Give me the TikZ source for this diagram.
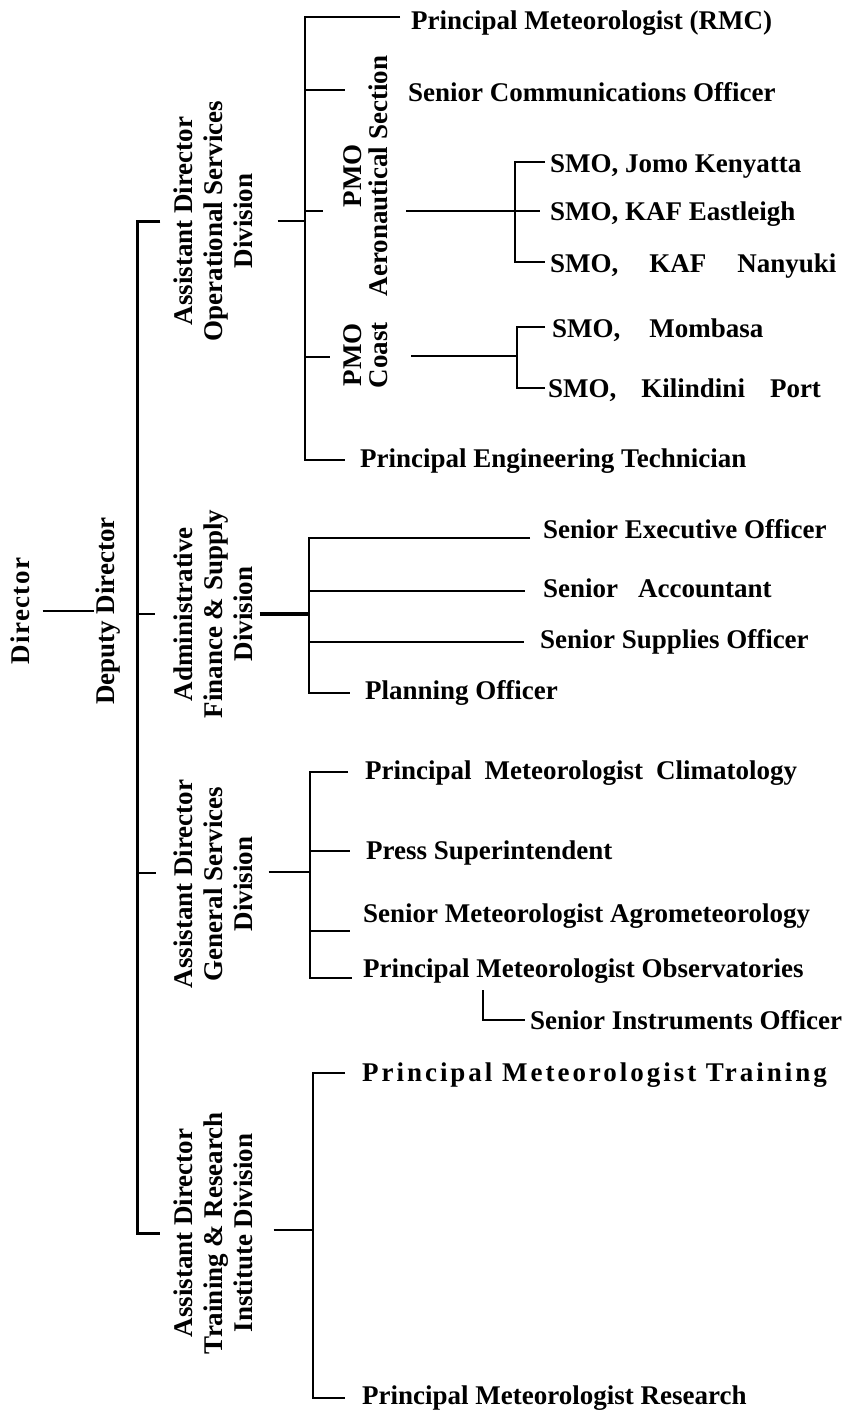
\documentclass[tikz,border=0pt]{standalone}
\usepackage{fontspec}
\setmainfont{Liberation Serif}
\begin{document}
\begin{tikzpicture}[x=1pt,y=-1pt,
  txt/.style={font=\fontsize{27}{30}\selectfont\bfseries, inner sep=0pt, anchor=base west},
  vtxt/.style={font=\fontsize{27}{30}\selectfont\bfseries, inner sep=0pt, rotate=90, align=center},
  ptxt/.style={font=\fontsize{27}{26}\selectfont\bfseries, inner sep=0pt, rotate=90, align=center},
  ln/.style={line width=2pt},
  thk/.style={line width=3pt},
  heavy/.style={line width=4pt}]
\useasboundingbox[fill=white] (0,0) rectangle (846,1414);

% ---- top levels ----
\node[vtxt] (dir) at (20,611) {\addfontfeature{LetterSpace=5}Director};
\node[vtxt] (dep) at (108,611) {Deputy Director};
\draw[ln, shorten <=13pt, shorten >=2pt] (dir.south) -- (dep.north);

% ---- division labels ----
\node[vtxt] (ops) at (213,221) {Assistant Director\\Operational Services\\Division};
\node[vtxt] (adm) at (213,614) {Administrative\\Finance \& Supply\\Division};
\node[vtxt] (gen) at (213,884) {Assistant Director\\General Services\\Division};
\node[vtxt] (trn) at (213,1233) {Assistant Director\\Training \& Research\\Institute Division};

% ---- spine ----
\coordinate (spX) at (137,0);
\draw[thk, shorten <=13pt, shorten >=13pt] (ops.north) -| (spX |- trn.north) -- (trn.north);
\draw[ln, shorten >=18pt] (spX |- adm.north) -- (adm.north);
\coordinate (gt) at (156,873);
\draw[ln] (spX |- gt) -- (gt);

% ---- operational services ----
\node[txt] (rmc) at (411,29) {Principal Meteorologist (RMC)};
\node[txt] (sco) at (408,101) {Senior Communications Officer};
\node[ptxt] (aero) at (366,176) {PMO\\Aeronautical Section};
\node[ptxt] (coast) at (366,355) {PMO\\Coast};
\node[txt] (pet) at (360,467) {Principal Engineering Technician};

\coordinate (oB) at (305,0);
\draw[ln, shorten <=25pt] (ops.south) -- (ops.south -| oB);
\coordinate (o1) at (305,17);
\coordinate (o2) at (305,90);
\coordinate (o3) at (305,211);
\coordinate (o4) at (305,357);
\coordinate (o5) at (305,460);
\draw[ln, shorten <=11pt, shorten >=15pt] (o1 -| rmc.west) -- (o1) -- (o5) -- (o5 -| pet.west);
\draw[ln, shorten >=63pt] (o2) -- (o2 -| sco.west);
\draw[ln, shorten >=21pt] (o3) -- (o3 -| aero.north);
\draw[ln, shorten >=14pt] (o4) -- (o4 -| coast.north);

% SMO aeronautical
\node[txt] (jomo) at (550,172) {SMO, Jomo Kenyatta};
\node[txt] (east) at (550,220) {SMO, KAF Eastleigh};
\node[txt] (nany) at (550,272) {SMO,\hspace{31pt}KAF\hspace{31pt}Nanyuki};
\coordinate (s1) at (515,162);
\coordinate (s3) at (515,262);
\draw[ln, shorten <=5pt, shorten >=5pt] (s1 -| jomo.west) -- (s1) -- (s3) -- (s3 -| nany.west);
\draw[ln, shorten <=18pt, shorten >=10pt] (o3 -| aero.south) -- (o3 -| east.west);

% SMO coast
\node[txt] (mom) at (552,337) {SMO,\hspace{29pt}Mombasa};
\node[txt] (kil) at (548,397) {SMO,\hspace{25pt}Kilindini\hspace{25pt}Port};
\coordinate (k1) at (517,327);
\coordinate (k2) at (517,356);
\coordinate (k3) at (517,388);
\draw[ln, shorten <=7pt, shorten >=3pt] (k1 -| mom.west) -- (k1) -- (k3) -- (k3 -| kil.west);
\draw[ln, shorten <=23pt] (k2 -| coast.south) -- (k2);

% ---- administrative ----
\node[txt] (seo) at (543,538) {Senior Executive Officer};
\node[txt] (acc) at (543,597) {Senior\hspace{20pt}Accountant};
\node[txt] (sso) at (540,648) {Senior Supplies Officer};
\node[txt] (plo) at (365,699) {Planning Officer};
\coordinate (aB) at (309,0);
\draw[heavy, shorten <=7pt] (adm.south) -- (adm.south -| aB);
\coordinate (a1) at (309,538);
\coordinate (a2) at (309,591);
\coordinate (a3) at (309,642);
\coordinate (a4) at (309,693);
\draw[ln, shorten <=13pt, shorten >=15pt] (a1 -| seo.west) -- (a1) -- (a4) -- (a4 -| plo.west);
\draw[ln, shorten >=18pt] (a2) -- (a2 -| acc.west);
\draw[ln, shorten >=16pt] (a3) -- (a3 -| sso.west);

% ---- general services ----
\node[txt] (clim) at (365,779) {Principal\hspace{13pt}Meteorologist\hspace{13pt}Climatology};
\node[txt] (press) at (366,859) {Press Superintendent};
\node[txt] (agro) at (363,922) {Senior Meteorologist Agrometeorology};
\node[txt] (obs) at (363,977) {Principal Meteorologist Observatories};
\node[txt] (ins) at (530,1029) {Senior Instruments Officer};
\coordinate (gc) at (310,872);
\draw[ln, shorten <=16pt] (gc -| gen.south) -- (gc);
\coordinate (g1) at (310,772);
\coordinate (g2) at (310,851);
\coordinate (g3) at (310,931);
\coordinate (g4) at (310,978);
\draw[ln, shorten <=17pt, shorten >=11pt] (g1 -| clim.west) -- (g1) -- (g4) -- (g4 -| obs.west);
\draw[ln, shorten >=16pt] (g2) -- (g2 -| press.west);
\draw[ln, shorten >=13pt] (g3) -- (g3 -| agro.west);
\coordinate (ih) at (483,990);
\draw[ln, shorten >=5pt] (ih) |- (ins.west);

% ---- training & research ----
\node[txt] (pmt) at (362,1081) {\addfontfeature{LetterSpace=11}Principal Meteorologist Training};
\node[txt] (pmr) at (362,1404) {Principal Meteorologist Research};
\coordinate (tc) at (313,1230);
\coordinate (t1) at (313,1073);
\coordinate (t2) at (313,1398);
\draw[ln, shorten <=21pt] (tc -| trn.south) -- (tc);
\draw[ln, shorten <=17pt, shorten >=17pt] (t1 -| pmt.west) -- (t1) -- (t2) -- (t2 -| pmr.west);
\end{tikzpicture}
\end{document}
